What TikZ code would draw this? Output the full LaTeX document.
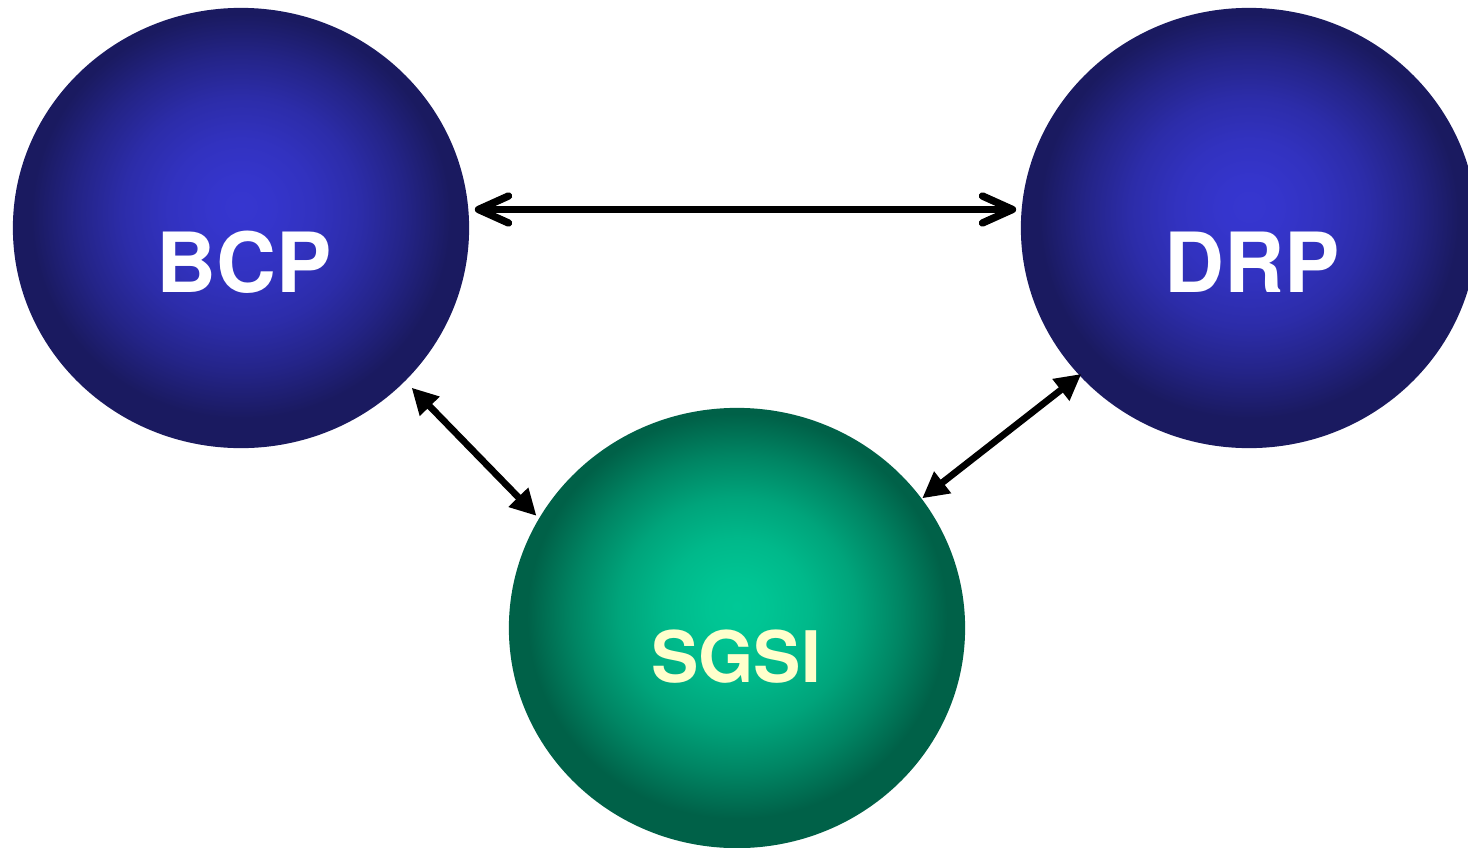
\documentclass[tikz,border=0pt]{standalone}
\usepackage{fontspec}
\setmainfont{TeX Gyre Heros}
\usetikzlibrary{arrows.meta,shapes.geometric}
\definecolor{bluein}{HTML}{3636D0}
\definecolor{blueout}{HTML}{1A1A60}
\definecolor{greenin}{HTML}{00C896}
\definecolor{greenout}{HTML}{006148}
\definecolor{sgsitext}{HTML}{FFFFCC}
\pgfdeclareradialshading{blueball}{\pgfpoint{0bp}{2.5bp}}{color(0bp)=(bluein); color(3bp)=(bluein!97!blueout); color(8bp)=(bluein!85!blueout); color(13bp)=(bluein!65!blueout); color(18bp)=(bluein!35!blueout); color(23bp)=(blueout); color(50bp)=(blueout)}
\pgfdeclareradialshading{greenball}{\pgfpoint{0bp}{2.5bp}}{color(0bp)=(greenin); color(3bp)=(greenin!97!greenout); color(8bp)=(greenin!85!greenout); color(13bp)=(greenin!65!greenout); color(18bp)=(greenin!35!greenout); color(23bp)=(greenout); color(50bp)=(greenout)}
\tikzset{
  bubble/.style={ellipse, draw=none, inner sep=0pt, minimum width=4.56cm, minimum height=4.40cm},
  bluebubble/.style={bubble, shading=blueball},
  greenbubble/.style={bubble, shading=greenball},
  biglbl/.style={anchor=base, inner sep=0pt, text=white, font=\fontsize{23.6}{28}\selectfont\bfseries},
  smalllbl/.style={anchor=base, inner sep=0pt, text=sgsitext, font=\fontsize{20.2}{24}\selectfont\bfseries},
  harrow/.style={line width=2.1pt, {Straight Barb[length=0.3cm, width=0.27cm, line cap=round, line join=round]}-{Straight Barb[length=0.3cm, width=0.27cm, line cap=round, line join=round]}},
  darrow/.style={line width=1.9pt, {Triangle[length=0.26cm, width=0.26cm]}-{Triangle[length=0.26cm, width=0.26cm]}}
}
\begin{document}
\begin{tikzpicture}[x=0.01cm, y=-0.01cm]
\useasboundingbox (0,0) rectangle (1468,848);
\clip (0,0) rectangle (1468,848);
\fill[white] (0,0) rectangle (1468,848);
\node[bluebubble] (bcp) at (241,228) {};
\node[bluebubble] (drp) at (1249,228) {};
\node[greenbubble] (sgsi) at (737,628) {};
\node[biglbl] (bcplbl) at (244,292) {BCP};
\node[biglbl] (drplbl) at (1252,292) {DRP};
\node[smalllbl] (sgsilbl) at (736,682) {SGSI};
\draw[harrow, shorten <=0.05cm, shorten >=0.04cm] ([yshift=0.185cm]bcp.east) -- ([yshift=0.185cm]drp.west);
\draw[darrow, shorten <=0.087cm, shorten >=0.03cm] (bcp.-43) -- (sgsi.151);
\draw[darrow, shorten >=-0.03cm] (sgsi.35) -- (drp.-139);
\end{tikzpicture}
\end{document}
